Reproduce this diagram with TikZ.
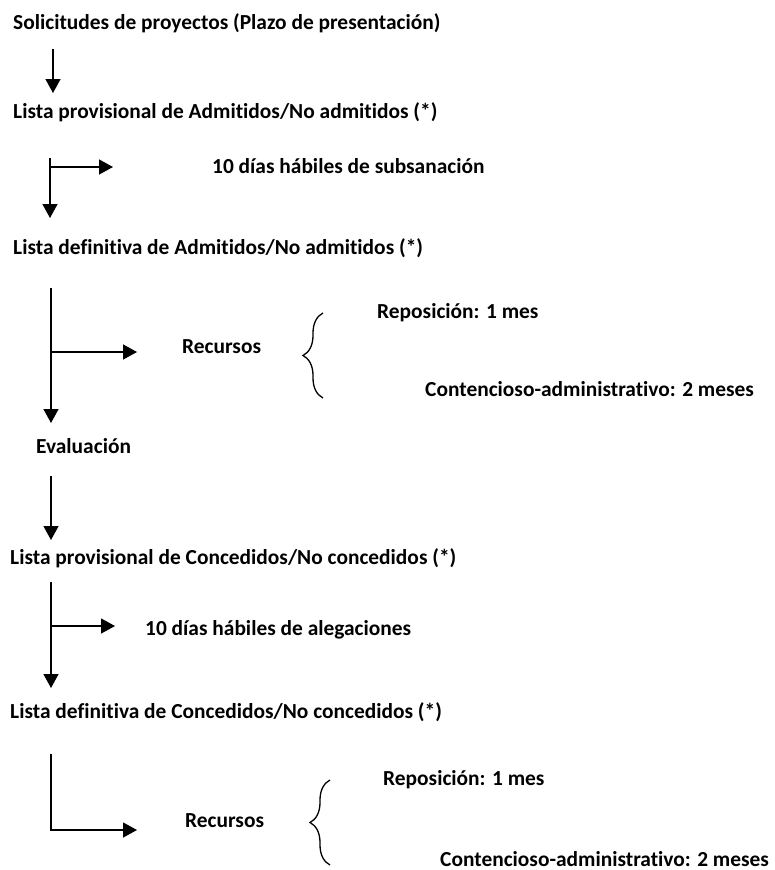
\documentclass[tikz,border=0pt]{standalone}
\usepackage{fontspec}
\setmainfont{Carlito}[Ligatures={NoCommon}]
\usetikzlibrary{arrows.meta,decorations.pathreplacing}

\tikzset{
  lbl/.style={anchor=base west,inner sep=0pt,font=\bfseries\fontsize{21.4}{24}\selectfont},
  arr/.style={-{Triangle[length=14pt,width=15pt]},line width=1.3pt},
  brc/.style={decorate,decoration={brace,amplitude=20pt},line width=1.3pt}
}

\begin{document}
\begin{tikzpicture}[x=1pt,y=-1pt]
  \useasboundingbox (0,0) rectangle (775,870);
  % stages
  \node[lbl] (sol) at (13,29) {Solicitudes de proyectos (Plazo de presentación)};
  \node[lbl] (provA) at (13,118) {Lista provisional de Admitidos/No admitidos (*)};
  \node[lbl] (subs) at (212,173) {10 días hábiles de subsanación};
  \node[lbl] (defA) at (13,254) {Lista definitiva de Admitidos/No admitidos (*)};
  \node[lbl] (recA) at (182,353) {Recursos};
  \node[lbl] (repA) at (377,318) {Reposición: 1 mes};
  \node[lbl] (conA) at (425,396) {Contencioso-administrativo: 2 meses};
  \node[lbl] (eval) at (36,453) {Evaluación};
  \node[lbl] (provC) at (10,564) {Lista provisional de Concedidos/No concedidos (*)};
  \node[lbl] (aleg) at (145,635) {10 días hábiles de alegaciones};
  \node[lbl] (defC) at (10,718) {Lista definitiva de Concedidos/No concedidos (*)};
  \node[lbl] (recC) at (185,827) {Recursos};
  \node[lbl] (repC) at (383,785) {Reposición: 1 mes};
  \node[lbl] (conC) at (440,866) {Contencioso-administrativo: 2 meses};
  % trunk points
  \coordinate (t1) at (53,49);   \coordinate (h1) at (53,93);
  \coordinate (t2) at (50,158);  \coordinate (h2) at (50,218);
  \coordinate (b2) at (50,167);  \coordinate (e2) at (113,167);
  \coordinate (t3) at (51,288);  \coordinate (h3) at (51,423);
  \coordinate (b3) at (51,352);  \coordinate (e3) at (137,352);
  \coordinate (t4) at (51,476);  \coordinate (h4) at (51,540);
  \coordinate (t5) at (51,582);  \coordinate (h5) at (51,688);
  \coordinate (b5) at (51,626);  \coordinate (e5) at (115,626);
  \coordinate (t6) at (51,754);  \coordinate (e6) at (137,830);
  % arrows
  \draw[arr] (t1) -- (h1);
  \draw[arr] (t2) -- (h2);
  \draw[arr] (b2) -- (e2);
  \draw[arr] (t3) -- (h3);
  \draw[arr] (b3) -- (e3);
  \draw[arr] (t4) -- (h4);
  \draw[arr] (t5) -- (h5);
  \draw[arr] (b5) -- (e5);
  \draw[arr] (t6) |- (e6);
  % braces
  \draw[brc] (323,398) -- (323,313);
  \draw[brc] (330,865) -- (330,780);
\end{tikzpicture}
\end{document}
